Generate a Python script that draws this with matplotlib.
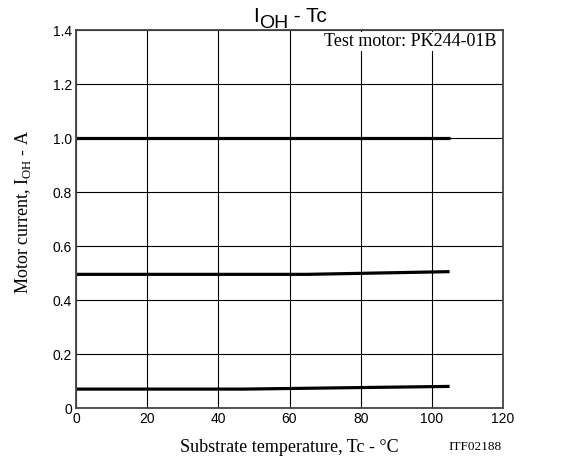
import numpy as np
import matplotlib.pyplot as plt

plt.rcParams['mathtext.fontset'] = 'custom'
plt.rcParams['mathtext.rm'] = 'Liberation Serif'

# Data
tc_a = [0, 105]
i_a = [1.0, 1.0]
tc_b = [0, 65, 105]
i_b = [0.495, 0.495, 0.505]
tc_c = [0, 47, 105]
i_c = [0.07, 0.07, 0.08]

xticks = [0, 20, 40, 60, 80, 100, 120]
yticks = [0, 0.2, 0.4, 0.6, 0.8, 1.0, 1.2, 1.4]
ylabels = ['0', '0.2', '0.4', '0.6', '0.8', '1.0', '1.2', '1.4']

W, H = 565, 465
fig = plt.figure(figsize=(W/100, H/100), dpi=100)
ax = fig.add_axes([76/W, 1-408/H, 427/W, 378/H])

for x, y in [(tc_a, i_a), (tc_b, i_b), (tc_c, i_c)]:
    ax.plot(x, y, color='black', linewidth=2.3, solid_capstyle='butt', zorder=3)

ax.set_xlim(0, 120)
ax.set_ylim(0, 1.4)
ax.set_xticks(xticks)
ax.set_yticks(yticks)
ax.set_yticklabels(ylabels)
ax.tick_params(length=0, pad=3, labelsize=10)
for lab in ax.get_xticklabels() + ax.get_yticklabels():
    lab.set_fontfamily('Liberation Sans')
ax.grid(True, color='black', linewidth=0.8)
for s in ax.spines.values():
    s.set_color('#444444')
    s.set_linewidth(1.3)
    s.set_zorder(5)

ax.text(497/W, 1-46/H, 'Test motor: PK244-01B', transform=fig.transFigure,
        ha='right', va='baseline', fontsize=13, family='Liberation Serif',
        bbox=dict(facecolor='white', edgecolor='none', pad=0.5), zorder=4)

# title: I with a large OH subscript, then " - Tc"
r = fig.canvas.get_renderer()
parts = [('I', 15, 0), ('OH', 14, -6), (' - Tc', 15, 0)]
texts = []
for s, fs, dy in parts:
    texts.append(fig.text(0, 0, s, fontsize=fs, family='Liberation Sans', va='baseline'))
widths = [t.get_window_extent(r).width for t in texts]
x = 290 - sum(widths) / 2
for t, w, (s, fs, dy) in zip(texts, widths, parts):
    t.set_position((x/W, 1-(22-dy)/H))
    x += w

fig.text(289/W, 1-447/H, 'Substrate temperature, Tc - °C', ha='center', va='center',
         fontsize=13, family='Liberation Serif')
fig.text(475/W, 1-447/H, 'ITF02188', ha='center', va='center',
         fontsize=9.5, family='Liberation Serif')
fig.text(23/W, 1-212/H, r'Motor current, $\mathrm{I}_{\mathrm{OH}}$ - A', ha='center',
         va='center', rotation=90, fontsize=13, family='Liberation Serif')

fig.savefig('out.png', dpi=100)
